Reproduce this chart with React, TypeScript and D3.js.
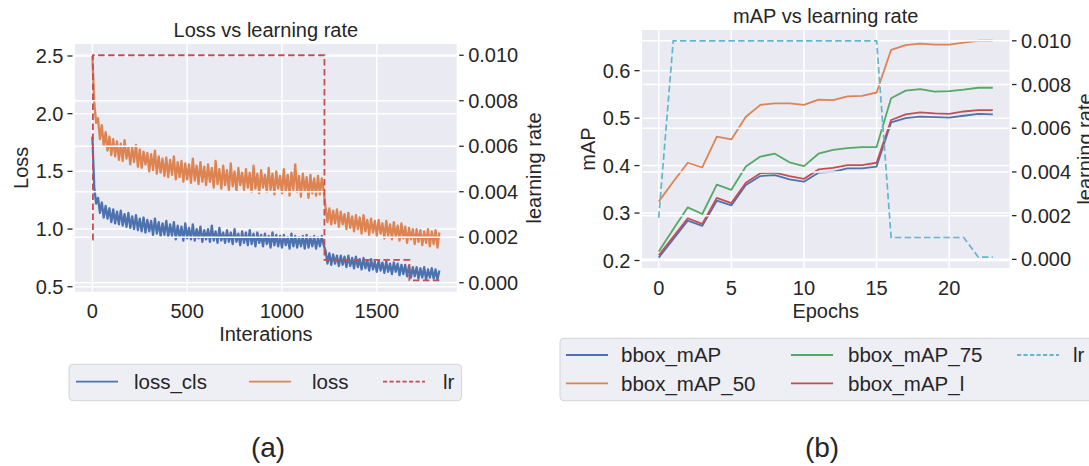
import React from 'react';
import * as d3 from 'd3';

// ---------- (a) training loss, logged every 10 iterations ----------
const ITERATIONS = d3.range(0, 1831, 10);

const LOSS_CLS = [
  1.80, 1.36, 1.22, 1.27, 1.14, 1.23, 1.10, 1.20, 1.09, 1.18,
  1.06, 1.17, 1.05, 1.15, 1.04, 1.16, 1.03, 1.13, 1.02, 1.14,
  1.01, 1.11, 1.00, 1.12, 0.99, 1.09, 0.98, 1.10, 0.97, 1.08,
  0.98, 1.07, 0.95, 1.09, 0.96, 1.06, 0.94, 1.05, 0.95, 1.07,
  0.93, 1.04, 0.94, 1.06, 0.91, 1.03, 0.93, 1.02, 0.90, 1.05,
  0.92, 1.01, 0.91, 1.04, 0.90, 1.00, 0.92, 1.02, 0.89, 0.99,
  0.91, 1.00, 0.89, 1.03, 0.90, 0.98, 0.88, 1.01, 0.90, 0.97,
  0.88, 0.99, 0.89, 0.97, 0.87, 1.00, 0.89, 0.96, 0.86, 0.98,
  0.88, 0.97, 0.86, 0.99, 0.87, 0.96, 0.85, 0.97, 0.88, 0.95,
  0.85, 0.96, 0.87, 0.94, 0.84, 0.97, 0.86, 0.95, 0.85, 0.94,
  0.84, 0.95, 0.86, 0.93, 0.83, 0.96, 0.85, 0.94, 0.84, 0.93,
  0.85, 0.94, 0.83, 0.95, 0.84, 0.93, 0.85, 0.94, 0.83, 0.93,
  0.85, 0.94, 0.86, 0.81, 0.70, 0.79, 0.69, 0.78, 0.70, 0.77,
  0.68, 0.77, 0.69, 0.76, 0.67, 0.77, 0.68, 0.75, 0.66, 0.76,
  0.67, 0.74, 0.65, 0.75, 0.66, 0.73, 0.64, 0.74, 0.65, 0.72,
  0.63, 0.73, 0.64, 0.71, 0.62, 0.72, 0.63, 0.70, 0.61, 0.71,
  0.63, 0.70, 0.60, 0.69, 0.61, 0.69, 0.59, 0.68, 0.58, 0.67,
  0.59, 0.67, 0.57, 0.66, 0.58, 0.67, 0.56, 0.65, 0.58, 0.66,
  0.57, 0.65, 0.56, 0.64,
];

const LOSS = [
  2.50, 2.10, 1.92, 1.96, 1.78, 1.90, 1.72, 1.84, 1.68, 1.80,
  1.64, 1.78, 1.63, 1.76, 1.60, 1.74, 1.59, 1.77, 1.61, 1.71,
  1.56, 1.71, 1.58, 1.73, 1.54, 1.69, 1.53, 1.67, 1.56, 1.66,
  1.50, 1.65, 1.51, 1.68, 1.48, 1.63, 1.49, 1.61, 1.46, 1.62,
  1.45, 1.60, 1.47, 1.63, 1.43, 1.58, 1.45, 1.59, 1.41, 1.57,
  1.43, 1.56, 1.40, 1.61, 1.42, 1.55, 1.39, 1.58, 1.41, 1.54,
  1.38, 1.56, 1.41, 1.53, 1.36, 1.59, 1.39, 1.52, 1.35, 1.55,
  1.38, 1.51, 1.34, 1.57, 1.37, 1.50, 1.33, 1.53, 1.38, 1.49,
  1.34, 1.52, 1.36, 1.49, 1.32, 1.55, 1.35, 1.48, 1.31, 1.51,
  1.36, 1.47, 1.32, 1.53, 1.34, 1.48, 1.30, 1.50, 1.35, 1.46,
  1.31, 1.52, 1.33, 1.47, 1.29, 1.49, 1.34, 1.56, 1.32, 1.46,
  1.28, 1.48, 1.33, 1.45, 1.27, 1.47, 1.31, 1.44, 1.29, 1.46,
  1.30, 1.44, 1.33, 1.19, 1.06, 1.18, 1.04, 1.16, 1.05, 1.17,
  1.02, 1.15, 1.04, 1.13, 1.00, 1.14, 1.01, 1.11, 0.98, 1.12,
  1.00, 1.10, 0.96, 1.12, 0.98, 1.08, 0.95, 1.09, 0.97, 1.07,
  0.94, 1.08, 0.96, 1.05, 0.92, 1.07, 0.94, 1.04, 0.91, 1.06,
  0.93, 1.03, 0.90, 1.05, 0.92, 1.02, 0.88, 1.01, 0.91, 1.00,
  0.87, 1.00, 0.89, 0.99, 0.86, 0.98, 0.88, 1.00, 0.85, 0.98,
  0.87, 0.99, 0.84, 0.97,
];

// learning-rate schedule: value holds from each listed iteration on
const LR_ITERS = [0, 3, 1224, 1672, 1830];
const LR_ITER_VALUES = [0.0019, 0.01, 0.001, 0.0001, 0.0001];

// ---------- (b) validation mAP per epoch ----------
const EPOCHS = d3.range(0, 24);
const BBOX_MAP = [
  0.206, 0.245, 0.284, 0.273, 0.326, 0.316, 0.359, 0.378, 0.380, 0.371, 0.366, 0.385,
  0.387, 0.394, 0.394, 0.398, 0.491, 0.500, 0.503, 0.502, 0.501, 0.505, 0.509, 0.508,
];
const BBOX_MAP_50 = [
  0.324, 0.366, 0.406, 0.396, 0.461, 0.455, 0.503, 0.528, 0.531, 0.531, 0.528, 0.539,
  0.538, 0.546, 0.547, 0.554, 0.644, 0.654, 0.657, 0.655, 0.655, 0.659, 0.663, 0.663,
];
const BBOX_MAP_75 = [
  0.219, 0.266, 0.312, 0.298, 0.360, 0.349, 0.398, 0.419, 0.425, 0.407, 0.399, 0.425,
  0.433, 0.437, 0.439, 0.439, 0.542, 0.558, 0.561, 0.556, 0.557, 0.560, 0.564, 0.564,
];
const BBOX_MAP_L = [
  0.211, 0.250, 0.289, 0.277, 0.332, 0.321, 0.364, 0.384, 0.385, 0.378, 0.372, 0.392,
  0.395, 0.401, 0.401, 0.406, 0.496, 0.508, 0.512, 0.510, 0.509, 0.514, 0.517, 0.517,
];
const LR_EPOCH = [
  0.0019, 0.01, 0.01, 0.01, 0.01, 0.01, 0.01, 0.01, 0.01, 0.01, 0.01, 0.01,
  0.01, 0.01, 0.01, 0.01, 0.001, 0.001, 0.001, 0.001, 0.001, 0.001, 0.0001, 0.0001,
];

// ---------- ticks ----------
const ITER_TICKS = [0, 500, 1000, 1500];
const LOSS_TICKS = [0.5, 1.0, 1.5, 2.0, 2.5];
const LR_TICKS = [0, 0.002, 0.004, 0.006, 0.008, 0.01];
const EPOCH_TICKS = [0, 5, 10, 15, 20];
const MAP_TICKS = [0.2, 0.3, 0.4, 0.5, 0.6];

// ---------- style ----------
const FONT = '"Liberation Sans", Arial, Helvetica, sans-serif';
const INK = '#262626';
const PLOT_BG = '#eaeaf2';
const GRID = '#ffffff';
const BLUE = '#4c72b0';
const ORANGE = '#dd8452';
const GREEN = '#55a868';
const RED = '#c44e52';
const CYAN = '#64b5cd';
const FS = 20;

type Frame = { left: number; right: number; top: number; bottom: number };

function Axes({
  frame, x, yL, yR, xTicks, yLTicks, yRTicks, fmtX, fmtL, fmtR,
  title, xLabel, yLabel, yRLabel, yRLabelX, primary, twin,
}: any) {
  const f: Frame = frame;
  const midY = (f.top + f.bottom) / 2;
  const midX = (f.left + f.right) / 2;
  return (
    <g fontFamily={FONT} fill={INK}>
      <rect x={f.left} y={f.top} width={f.right - f.left} height={f.bottom - f.top} fill={PLOT_BG} />
      {/* primary grid */}
      {xTicks.map((t: number) => (
        <line key={'gx' + t} x1={x(t)} x2={x(t)} y1={f.top} y2={f.bottom} stroke={GRID} strokeWidth={1.5} />
      ))}
      {yLTicks.map((t: number) => (
        <line key={'gl' + t} x1={f.left} x2={f.right} y1={yL(t)} y2={yL(t)} stroke={GRID} strokeWidth={1.5} />
      ))}
      {primary}
      {/* twin-axis grid sits above the primary curves */}
      {yRTicks.map((t: number) => (
        <line key={'gr' + t} x1={f.left} x2={f.right} y1={yR(t)} y2={yR(t)} stroke={GRID} strokeWidth={1.5} />
      ))}
      {twin}
      {/* x tick labels */}
      {xTicks.map((t: number) => (
        <text key={'tx' + t} x={x(t)} y={f.bottom + 26.5} fontSize={FS} textAnchor="middle">{fmtX(t)}</text>
      ))}
      {/* left y ticks */}
      {yLTicks.map((t: number) => (
        <g key={'tl' + t}>
          <line x1={f.left - 7.5} x2={f.left - 2.5} y1={yL(t)} y2={yL(t)} stroke={INK} strokeWidth={1.3} />
          <text x={f.left - 11.5} y={yL(t) + 7} fontSize={FS} textAnchor="end">{fmtL(t)}</text>
        </g>
      ))}
      {/* right y ticks */}
      {yRTicks.map((t: number) => (
        <g key={'tr' + t}>
          <line x1={f.right + 2.5} x2={f.right + 7} y1={yR(t)} y2={yR(t)} stroke={INK} strokeWidth={1.3} />
          <text x={f.right + 11.5} y={yR(t) + 7} fontSize={FS} textAnchor="start">{fmtR(t)}</text>
        </g>
      ))}
      <text x={midX} y={f.top - 7.5} fontSize={FS} textAnchor="middle">{title}</text>
      <text x={midX} y={f.bottom + 49.5} fontSize={FS} textAnchor="middle">{xLabel}</text>
      <text transform={`translate(${f.left - 47.5},${midY}) rotate(-90)`} fontSize={FS} textAnchor="middle">{yLabel}</text>
      <text transform={`translate(${yRLabelX},${midY}) rotate(-90)`} fontSize={FS} textAnchor="middle">{yRLabel}</text>
    </g>
  );
}

function Legend({ box, items }: any) {
  return (
    <g fontFamily={FONT} fill={INK}>
      <rect x={box.x} y={box.y} width={box.w} height={box.h} rx={4} fill="#eeeef5" stroke="#d3d3da" strokeWidth={1} />
      {items.map((it: any) => (
        <g key={it.label}>
          <line x1={it.x} x2={it.x + 42} y1={it.y} y2={it.y} stroke={it.color} strokeWidth={1.8}
            strokeDasharray={it.dashed ? '4.2,2.3' : undefined} />
          <text x={it.tx} y={it.y + 7.2} fontSize={20.5}>{it.label}</text>
        </g>
      ))}
    </g>
  );
}

export default function App() {
  // ---- panel (a) ----
  const fa: Frame = { left: 75, right: 456.7, top: 44, bottom: 291.7 };
  const xa = d3.scaleLinear().domain([-91.5, 1921.5]).range([fa.left, fa.right]);
  const ya = d3.scaleLinear().domain([0.457, 2.604]).range([fa.bottom, fa.top]);
  const yaR = d3.scaleLinear().domain([-0.000395, 0.010495]).range([fa.bottom, fa.top]);

  const lossLine = (vals: number[]) =>
    d3.line<number>().x((_, i) => xa(ITERATIONS[i])).y((v) => ya(v))(vals) || '';
  const lrA = d3.line<number>().x((_, i) => xa(LR_ITERS[i])).y((v) => yaR(v)).curve(d3.curveStepAfter)(LR_ITER_VALUES) || '';

  // ---- panel (b) ----
  const fb: Frame = { left: 642, right: 1009.5, top: 30, bottom: 268 };
  const xb = d3.scaleLinear().domain([-1.15, 24.15]).range([fb.left, fb.right]);
  const yb = d3.scaleLinear().domain([0.1842, 0.6857]).range([fb.bottom, fb.top]);
  const ybR = d3.scaleLinear().domain([-0.000395, 0.010495]).range([fb.bottom, fb.top]);
  const mapLine = (vals: number[]) =>
    d3.line<number>().x((_, i) => xb(EPOCHS[i])).y((v) => yb(v))(vals) || '';
  const lrB = d3.line<number>().x((_, i) => xb(EPOCHS[i])).y((v) => ybR(v))(LR_EPOCH) || '';

  const f1 = d3.format('.1f');
  const f3 = d3.format('.3f');
  const fd = d3.format('d');

  return (
    <svg width={1089} height={466} style={{ position: 'absolute', left: 0, top: 0, background: '#fff' }}>
      <Axes
        frame={fa} x={xa} yL={ya} yR={yaR}
        xTicks={ITER_TICKS} yLTicks={LOSS_TICKS} yRTicks={LR_TICKS}
        fmtX={fd} fmtL={f1} fmtR={f3}
        title="Loss vs learning rate" xLabel="Interations" yLabel="Loss" yRLabel="learning rate"
        yRLabelX={540.5}
        primary={
          <g fill="none" strokeWidth={2.3} strokeLinejoin="round">
            <path d={lossLine(LOSS_CLS)} stroke={BLUE} />
            <path d={lossLine(LOSS)} stroke={ORANGE} />
          </g>
        }
        twin={<path d={lrA} fill="none" stroke={RED} strokeWidth={1.8} strokeDasharray="6.5,3.5" />}
      />
      <Axes
        frame={fb} x={xb} yL={yb} yR={ybR}
        xTicks={EPOCH_TICKS} yLTicks={MAP_TICKS} yRTicks={LR_TICKS}
        fmtX={fd} fmtL={f1} fmtR={f3}
        title="mAP vs learning rate" xLabel="Epochs" yLabel="mAP" yRLabel="learning rate"
        yRLabelX={1091.5}
        primary={
          <g fill="none" strokeWidth={1.8} strokeLinejoin="round">
            <path d={mapLine(BBOX_MAP)} stroke={BLUE} />
            <path d={mapLine(BBOX_MAP_50)} stroke={ORANGE} />
            <path d={mapLine(BBOX_MAP_75)} stroke={GREEN} />
            <path d={mapLine(BBOX_MAP_L)} stroke={RED} />
          </g>
        }
        twin={<path d={lrB} fill="none" stroke={CYAN} strokeWidth={1.7} strokeDasharray="6.5,3.2" />}
      />
      <Legend
        box={{ x: 69, y: 364.3, w: 392.6, h: 36.4 }}
        items={[
          { label: 'loss_cls', color: BLUE, x: 76, tx: 134, y: 381.7 },
          { label: 'loss', color: ORANGE, x: 249, tx: 312, y: 381.7 },
          { label: 'lr', color: RED, x: 383, tx: 443, y: 381.7, dashed: true },
        ]}
      />
      <Legend
        box={{ x: 560, y: 338.3, w: 533, h: 62.4 }}
        items={[
          { label: 'bbox_mAP', color: BLUE, x: 566, tx: 621, y: 355 },
          { label: 'bbox_mAP_50', color: ORANGE, x: 566, tx: 621, y: 383.3 },
          { label: 'bbox_mAP_75', color: GREEN, x: 791, tx: 848, y: 355 },
          { label: 'bbox_mAP_l', color: RED, x: 791, tx: 848, y: 383.3 },
          { label: 'lr', color: CYAN, x: 1017, tx: 1073, y: 355, dashed: true },
        ]}
      />
      <text x={268} y={457} fontFamily={FONT} fontSize={28} fill={INK} textAnchor="middle">(a)</text>
      <text x={822} y={457} fontFamily={FONT} fontSize={28} fill={INK} textAnchor="middle">(b)</text>
    </svg>
  );
}
